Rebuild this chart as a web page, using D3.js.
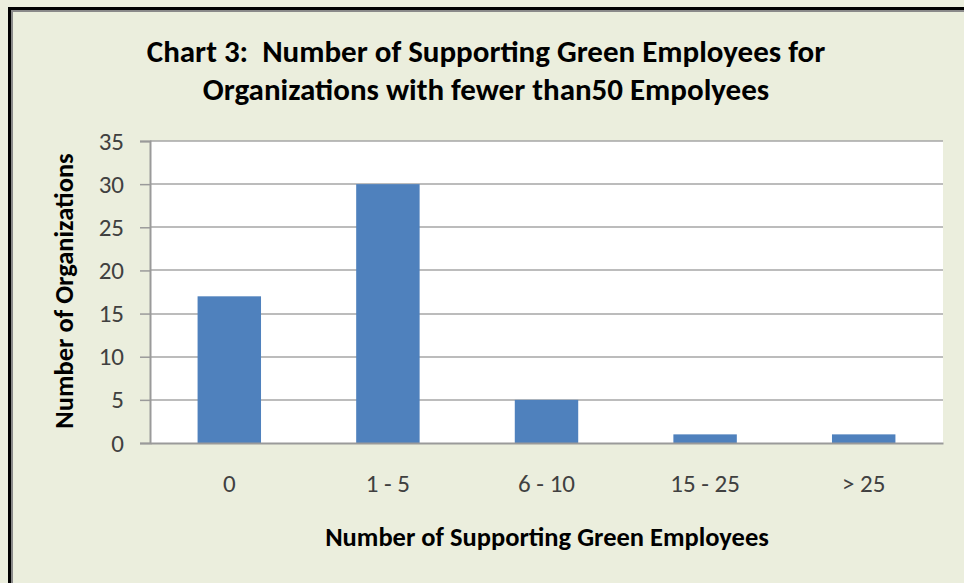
<!DOCTYPE html>
<html>
<head>
<meta charset="utf-8">
<script src="https://cdn.jsdelivr.net/npm/d3@7"></script>
<style>
	body { margin: 0; background: #ebeedd; }
	svg { display: block; }
</style>
</head>
<body>
<div id="chart"></div>
<script>
const categories = ["0", "1 - 5", "6 - 10", "15 - 25", "> 25"];
const organizations = [17, 30, 5, 1, 1];
const yTicks = [0, 5, 10, 15, 20, 25, 30, 35];
const titleLines = ["Chart 3:  Number of Supporting Green Employees for", "Organizations with fewer than50 Empolyees"];

const width = 964, height = 583;
const font = "Carlito, Calibri, 'Liberation Sans Narrow', 'DejaVu Sans Condensed', sans-serif";
const plot = {left: 150, right: 943, top: 141, bottom: 443};

const svg = d3.select("#chart")
	.append("svg")
	.attr("width", width)
	.attr("height", height);

svg.append("rect")
	.attr("width", width)
	.attr("height", height)
	.attr("fill", "#ebeedd");

// frame on the left and top edges
svg.append("path")
	.attr("d", "M9.5," + height + "V8.5H" + width)
	.attr("fill", "none")
	.attr("stroke", "#000")
	.attr("stroke-width", 3);
svg.append("path")
	.attr("d", "M12," + height + "V11H" + width)
	.attr("fill", "none")
	.attr("stroke", "#8a8a8a")
	.attr("stroke-width", 2);

let x = d3.scaleBand().domain(categories).range([plot.left, plot.right]).paddingInner(0.6).paddingOuter(0.3);
let y = d3.scaleLinear().domain([0, 35]).range([plot.bottom, plot.top]);

svg.append("rect")
	.attr("x", plot.left)
	.attr("y", plot.top)
	.attr("width", plot.right - plot.left)
	.attr("height", plot.bottom - plot.top)
	.attr("fill", "#fff");

svg.selectAll("line.grid")
	.data(yTicks.filter(d => d > 0))
	.enter().append("line")
	.attr("class", "grid")
	.attr("x1", plot.left)
	.attr("x2", plot.right)
	.attr("y1", d => Math.round(y(d)))
	.attr("y2", d => Math.round(y(d)))
	.style("stroke", "#a6a6a6")
	.style("stroke-width", 1.5);

svg.selectAll("rect.bar")
	.data(organizations)
	.enter().append("rect")
	.attr("class", "bar")
	.attr("x", (d, i) => x(categories[i]))
	.attr("y", d => y(d))
	.attr("width", x.bandwidth())
	.attr("height", d => y(0) - y(d))
	.attr("fill", "#4f81bd");

let yAxis = d3.axisLeft(y).tickValues(yTicks).tickSize(10).tickPadding(16);
let gy = svg.append("g")
	.attr("transform", "translate(" + plot.left + ",0)")
	.call(yAxis);
gy.select(".domain").attr("stroke", "#9a9a9a").attr("stroke-width", 2);
gy.selectAll(".tick line").attr("stroke", "#9a9a9a").attr("stroke-width", 1.5);
gy.selectAll(".tick text")
	.attr("fill", "#404040")
	.style("font-family", font)
	.style("font-size", "25px");

let xAxis = d3.axisBottom(x).tickSize(0).tickPadding(31);
let gx = svg.append("g")
	.attr("transform", "translate(0," + plot.bottom + ")")
	.call(xAxis);
gx.select(".domain").attr("stroke", "#9a9a9a").attr("stroke-width", 2);
gx.selectAll(".tick text")
	.attr("fill", "#404040")
	.style("font-family", font)
	.style("font-size", "25px");

svg.selectAll("text.title")
	.data(titleLines)
	.enter().append("text")
	.attr("class", "title")
	.attr("x", 486)
	.attr("y", (d, i) => 62 + i * 38)
	.attr("text-anchor", "middle")
	.style("white-space", "pre")
	.style("font-family", font)
	.style("font-weight", "bold")
	.style("font-size", "31px")
	.text(d => d);

svg.append("text")
	.attr("x", 547)
	.attr("y", 546)
	.attr("text-anchor", "middle")
	.style("font-family", font)
	.style("font-weight", "bold")
	.style("font-size", "26.5px")
	.text("Number of Supporting Green Employees");

svg.append("text")
	.attr("transform", "translate(73,291) rotate(-90)")
	.attr("text-anchor", "middle")
	.style("font-family", font)
	.style("font-weight", "bold")
	.style("font-size", "26.5px")
	.text("Number of Organizations");
</script>
</body>
</html>
